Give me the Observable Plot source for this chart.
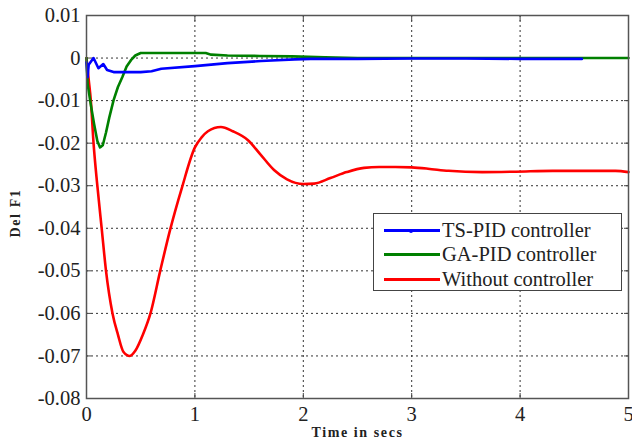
<!DOCTYPE html>
<html>
<head>
<meta charset="utf-8">
<script src="https://cdn.jsdelivr.net/npm/d3@7"></script>
<script src="https://cdn.jsdelivr.net/npm/@observablehq/plot@0.6"></script>
<style>
  html, body { margin: 0; padding: 0; background: white; }
  #wrap { position: relative; width: 632px; height: 441px; }
  #legend { position: absolute; left: 373px; top: 213px; width: 249px; height: 78px;
    border: 1px solid #444; background: white; font-family: "Liberation Serif", serif;
    font-size: 20.5px; color: #222; box-sizing: border-box; }
  .row { position: absolute; left: 0; height: 24px; }
  .sw { position: absolute; left: 10px; width: 56px; height: 0; border-top: 3px solid; }
  .lab { position: absolute; left: 68px; white-space: nowrap; line-height: 24px; top: 0; }
  .dot { position: absolute; top: -3.5px; width: 4px; height: 4px; border-radius: 50%; }
</style>
</head>
<body>
<div id="wrap"></div>
<script>
// ---- data ----
const seriesNames = ["TS-PID controller", "GA-PID controller", "Without controller"];
const seriesColors = ["#0000ff", "#008000", "#ff0000"];

const tBlue = [0, 0.01, 0.02, 0.065, 0.11, 0.155, 0.19, 0.25, 0.5, 0.6, 0.69, 1.0, 1.3, 1.61, 1.92, 2.07, 2.5, 3.0, 3.5, 4.0, 4.57];
const vBlue = [-0.001, -0.0045, -0.0016, 0, -0.0024, -0.0014, -0.0028, -0.0033, -0.0033, -0.0031, -0.0025, -0.0019, -0.0012, -0.0007, -0.0003, -0.0002, -0.0002, -0.0001, -0.0001, -0.0002, -0.0002];

const tGreen = [0, 0.01, 0.04, 0.07, 0.1, 0.125, 0.15, 0.18, 0.21, 0.25, 0.29, 0.33, 0.37, 0.41, 0.45, 0.5, 0.6, 1.1, 1.15, 1.3, 1.6, 1.9, 2.2, 2.5, 5];
const vGreen = [0, -0.006, -0.011, -0.0155, -0.0195, -0.021, -0.0205, -0.0175, -0.014, -0.0099, -0.0068, -0.0045, -0.002, -0.0005, 0.0006, 0.0012, 0.0012, 0.0012, 0.0008, 0.0006, 0.0005, 0.0004, 0.0002, 0.0, 0.0];

const tRed = [0, 0.02, 0.04, 0.065, 0.1, 0.14, 0.18, 0.24, 0.29, 0.34, 0.4, 0.45, 0.52, 0.59, 0.68, 0.77, 0.88, 1.0, 1.06, 1.12, 1.24, 1.35, 1.49, 1.6, 1.73, 1.85, 2.0, 2.1, 2.25, 2.4, 2.56, 2.7, 2.85, 3.0, 3.15, 3.34, 3.65, 3.96, 4.3, 4.6, 4.88, 5.0];
const vRed = [0, -0.005, -0.01, -0.02, -0.03, -0.04, -0.05, -0.06, -0.065, -0.069, -0.07, -0.0688, -0.065, -0.06, -0.05, -0.0405, -0.0305, -0.021, -0.0187, -0.0172, -0.0162, -0.0172, -0.0193, -0.0225, -0.0263, -0.0285, -0.0296, -0.0295, -0.0282, -0.0268, -0.0258, -0.0256, -0.0256, -0.0257, -0.026, -0.0265, -0.0268, -0.0267, -0.0265, -0.0265, -0.0265, -0.0268];

const xTicks = [0, 1, 2, 3, 4, 5];
const yTicks = [0.01, 0, -0.01, -0.02, -0.03, -0.04, -0.05, -0.06, -0.07, -0.08];
const xLabel = "Time in secs";
const yLabel = "Del F1";

// ---- build ----
const toRows = (ts, vs, s) => ts.map((t, i) => ({t, v: vs[i], s}));
const blue = toRows(tBlue, vBlue, seriesNames[0]);
const green = toRows(tGreen, vGreen, seriesNames[1]);
const red = toRows(tRed, vRed, seriesNames[2]);

const fmtY = d => d === 0 ? "0" : String(+d.toFixed(2));
const grid = {stroke: "#333", strokeOpacity: 1, strokeWidth: 1, strokeDasharray: "2,3"};

const chart = Plot.plot({
  width: 632,
  height: 441,
  marginLeft: 86,
  marginRight: 4,
  marginTop: 15,
  marginBottom: 43,
  style: {fontFamily: "'Liberation Serif', serif", fontSize: "20.5px", color: "#222", background: "white", overflow: "visible"},
  x: {domain: [0, 5]},
  y: {domain: [-0.08, 0.01]},
  marks: [
    Plot.gridX(xTicks.slice(1, -1), grid),
    Plot.gridY(yTicks.slice(1, -1), grid),
    Plot.axisX({ticks: xTicks, tickSize: -5, tickPadding: 13, label: null, tickFormat: d => String(d), stroke: "#444"}),
    Plot.axisX({anchor: "top", ticks: xTicks, tickSize: -5, label: null, tickFormat: () => "", stroke: "#444"}),
    Plot.axisY({ticks: yTicks, tickSize: -5, tickPadding: 11, label: null, tickFormat: fmtY, stroke: "#444"}),
    Plot.axisY({anchor: "right", ticks: yTicks, tickSize: -5, label: null, tickFormat: () => "", stroke: "#444"}),
    Plot.line(red, {x: "t", y: "v", stroke: seriesColors[2], strokeWidth: 2.6, curve: "monotone-x"}),
    Plot.line(green, {x: "t", y: "v", stroke: seriesColors[1], strokeWidth: 2.6}),
    Plot.line(blue, {x: "t", y: "v", stroke: seriesColors[0], strokeWidth: 2.6}),
    Plot.frame({stroke: "#555", strokeWidth: 1.5}),
    Plot.text([xLabel], {frameAnchor: "bottom", dy: 34, textAnchor: "middle", lineAnchor: "middle", fontWeight: "bold", fontSize: 14, fill: "#222"}),
    Plot.text([yLabel], {frameAnchor: "left", dx: -71, dy: 6, rotate: -90, textAnchor: "middle", lineAnchor: "middle", fontWeight: "bold", fontSize: 14, fill: "#222"})
  ]
});

document.getElementById("wrap").appendChild(chart);
chart.querySelectorAll('g[aria-label="text"] text').forEach(el => el.style.letterSpacing = "1.6px");

// legend
const leg = document.createElement("div");
leg.id = "legend";
const tops = [16, 40, 65];
seriesNames.forEach((name, i) => {
  const row = document.createElement("div");
  row.className = "row";
  row.style.top = (tops[i] - 12) + "px";
  row.style.width = "245px";
  const sw = document.createElement("div");
  sw.className = "sw";
  sw.style.borderColor = seriesColors[i];
  sw.style.top = "11px";
  if (i === 0) {
    const dot = document.createElement("div");
    dot.className = "dot";
    dot.style.background = seriesColors[i];
    dot.style.left = "25px";
    sw.appendChild(dot);
  }
  const lab = document.createElement("div");
  lab.className = "lab";
  lab.textContent = name;
  row.appendChild(sw);
  row.appendChild(lab);
  leg.appendChild(row);
});
document.getElementById("wrap").appendChild(leg);
</script>
</body>
</html>
